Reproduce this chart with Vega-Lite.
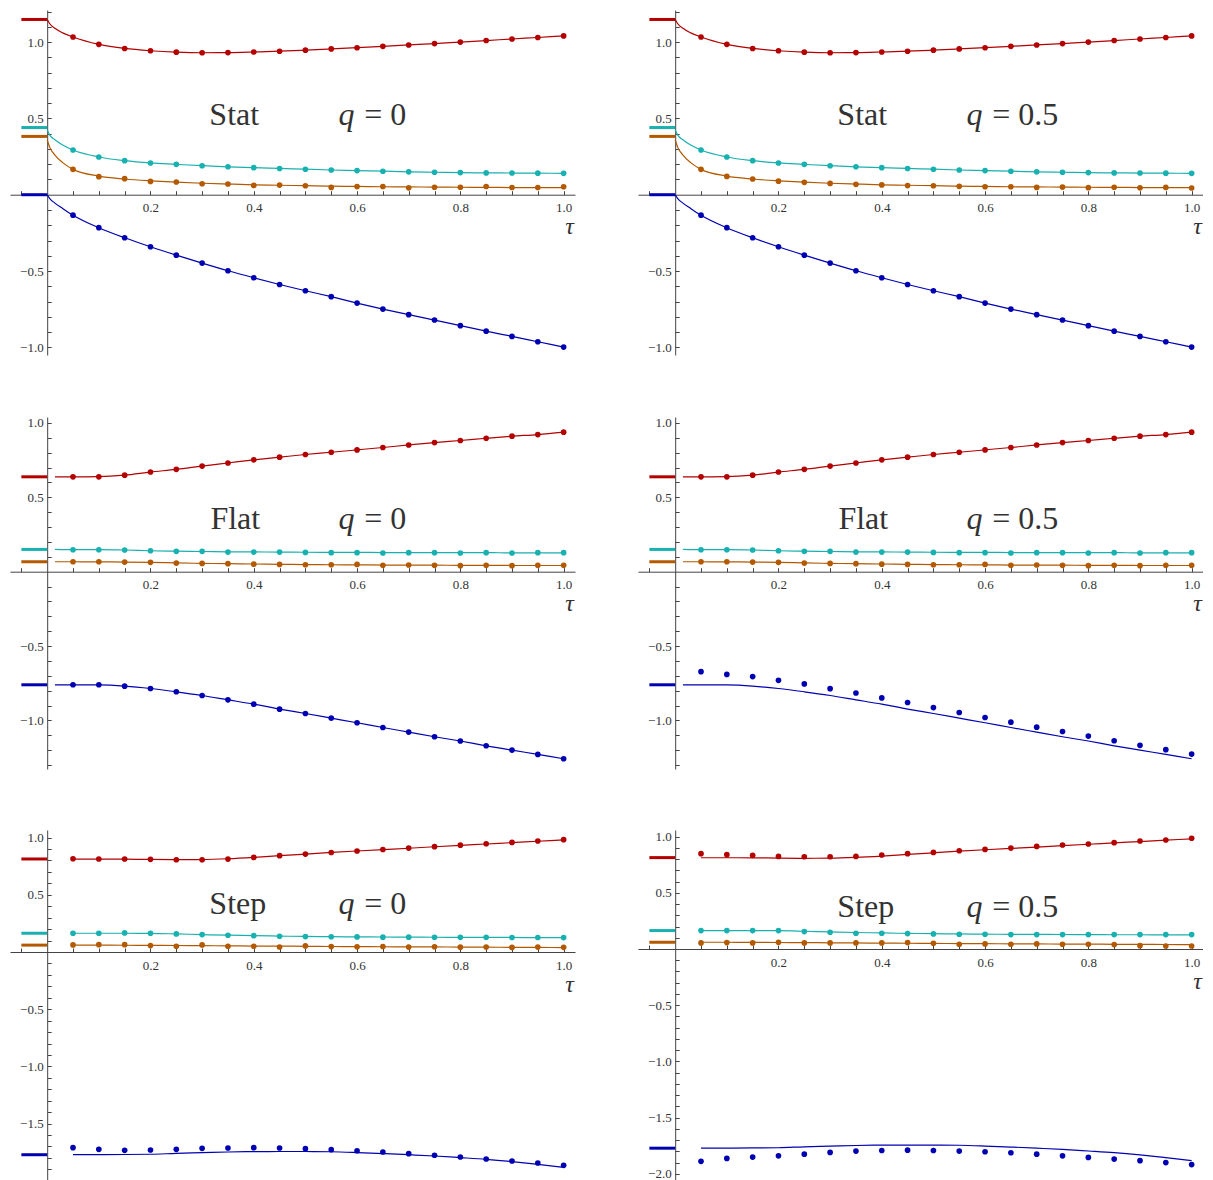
{
"$schema":"https://vega.github.io/schema/vega-lite/v6.json",
"background":"white",
"padding":{"left":10,"top":10,"right":0,"bottom":0},
"spacing":61,
"config":{"view":{"stroke":null},"font":"Liberation Serif","axis":{"domainWidth":1,"tickWidth":1,"domainColor":"#444","tickColor":"#444","labelColor":"#333","labelFont":"Liberation Serif","grid":false,"labelFlush":false,"labelOverlap":false}},
"data":{"values":[
{"p":"Sl","s":"r","t":0,"v":1.148},{"p":"Sl","s":"r","t":0.005,"v":1.12},{"p":"Sl","s":"r","t":0.015,"v":1.09},{"p":"Sl","s":"r","t":0.03,"v":1.06},{"p":"Sl","s":"r","t":0.05,"v":1.033},{"p":"Sl","s":"r","t":0.1,"v":0.985},{"p":"Sl","s":"r","t":0.15,"v":0.958},{"p":"Sl","s":"r","t":0.2,"v":0.943},{"p":"Sl","s":"r","t":0.25,"v":0.934},{"p":"Sl","s":"r","t":0.3,"v":0.93},{"p":"Sl","s":"r","t":0.35,"v":0.931},{"p":"Sl","s":"r","t":0.4,"v":0.935},{"p":"Sl","s":"r","t":0.45,"v":0.94},{"p":"Sl","s":"r","t":0.5,"v":0.947},{"p":"Sl","s":"r","t":0.55,"v":0.955},{"p":"Sl","s":"r","t":0.6,"v":0.963},{"p":"Sl","s":"r","t":0.65,"v":0.972},{"p":"Sl","s":"r","t":0.7,"v":0.981},{"p":"Sl","s":"r","t":0.75,"v":0.99},{"p":"Sl","s":"r","t":0.8,"v":1.0},{"p":"Sl","s":"r","t":0.85,"v":1.01},{"p":"Sl","s":"r","t":0.9,"v":1.02},{"p":"Sl","s":"r","t":0.95,"v":1.03},{"p":"Sl","s":"r","t":1,"v":1.04},
{"p":"Sl","s":"c","t":0,"v":0.425},{"p":"Sl","s":"c","t":0.005,"v":0.39},{"p":"Sl","s":"c","t":0.015,"v":0.36},{"p":"Sl","s":"c","t":0.03,"v":0.325},{"p":"Sl","s":"c","t":0.05,"v":0.293},{"p":"Sl","s":"c","t":0.1,"v":0.247},{"p":"Sl","s":"c","t":0.15,"v":0.223},{"p":"Sl","s":"c","t":0.2,"v":0.208},{"p":"Sl","s":"c","t":0.25,"v":0.199},{"p":"Sl","s":"c","t":0.3,"v":0.19},{"p":"Sl","s":"c","t":0.35,"v":0.183},{"p":"Sl","s":"c","t":0.4,"v":0.177},{"p":"Sl","s":"c","t":0.45,"v":0.172},{"p":"Sl","s":"c","t":0.5,"v":0.167},{"p":"Sl","s":"c","t":0.55,"v":0.162},{"p":"Sl","s":"c","t":0.6,"v":0.158},{"p":"Sl","s":"c","t":0.65,"v":0.154},{"p":"Sl","s":"c","t":0.7,"v":0.15},{"p":"Sl","s":"c","t":0.75,"v":0.147},{"p":"Sl","s":"c","t":0.8,"v":0.145},{"p":"Sl","s":"c","t":0.85,"v":0.143},{"p":"Sl","s":"c","t":0.9,"v":0.142},{"p":"Sl","s":"c","t":0.95,"v":0.141},{"p":"Sl","s":"c","t":1,"v":0.14},
{"p":"Sl","s":"o","t":0,"v":0.36},{"p":"Sl","s":"o","t":0.005,"v":0.31},{"p":"Sl","s":"o","t":0.015,"v":0.26},{"p":"Sl","s":"o","t":0.03,"v":0.21},{"p":"Sl","s":"o","t":0.05,"v":0.166},{"p":"Sl","s":"o","t":0.1,"v":0.122},{"p":"Sl","s":"o","t":0.15,"v":0.103},{"p":"Sl","s":"o","t":0.2,"v":0.091},{"p":"Sl","s":"o","t":0.25,"v":0.082},{"p":"Sl","s":"o","t":0.3,"v":0.075},{"p":"Sl","s":"o","t":0.35,"v":0.07},{"p":"Sl","s":"o","t":0.4,"v":0.065},{"p":"Sl","s":"o","t":0.45,"v":0.062},{"p":"Sl","s":"o","t":0.5,"v":0.059},{"p":"Sl","s":"o","t":0.55,"v":0.056},{"p":"Sl","s":"o","t":0.6,"v":0.054},{"p":"Sl","s":"o","t":0.65,"v":0.052},{"p":"Sl","s":"o","t":0.7,"v":0.051},{"p":"Sl","s":"o","t":0.75,"v":0.05},{"p":"Sl","s":"o","t":0.8,"v":0.049},{"p":"Sl","s":"o","t":0.85,"v":0.048},{"p":"Sl","s":"o","t":0.9,"v":0.047},{"p":"Sl","s":"o","t":0.95,"v":0.046},{"p":"Sl","s":"o","t":1,"v":0.046},
{"p":"Sl","s":"b","t":0,"v":0},{"p":"Sl","s":"b","t":0.005,"v":-0.025},{"p":"Sl","s":"b","t":0.015,"v":-0.055},{"p":"Sl","s":"b","t":0.03,"v":-0.09},{"p":"Sl","s":"b","t":0.05,"v":-0.134},{"p":"Sl","s":"b","t":0.1,"v":-0.216},{"p":"Sl","s":"b","t":0.15,"v":-0.282},{"p":"Sl","s":"b","t":0.2,"v":-0.341},{"p":"Sl","s":"b","t":0.25,"v":-0.396},{"p":"Sl","s":"b","t":0.3,"v":-0.448},{"p":"Sl","s":"b","t":0.35,"v":-0.498},{"p":"Sl","s":"b","t":0.4,"v":-0.544},{"p":"Sl","s":"b","t":0.45,"v":-0.588},{"p":"Sl","s":"b","t":0.5,"v":-0.629},{"p":"Sl","s":"b","t":0.55,"v":-0.668},{"p":"Sl","s":"b","t":0.6,"v":-0.71},{"p":"Sl","s":"b","t":0.65,"v":-0.749},{"p":"Sl","s":"b","t":0.7,"v":-0.786},{"p":"Sl","s":"b","t":0.75,"v":-0.821},{"p":"Sl","s":"b","t":0.8,"v":-0.858},{"p":"Sl","s":"b","t":0.85,"v":-0.894},{"p":"Sl","s":"b","t":0.9,"v":-0.928},{"p":"Sl","s":"b","t":0.95,"v":-0.963},{"p":"Sl","s":"b","t":1,"v":-0.998},
{"p":"Sb","s":"r","t":-0.05,"t2":0,"v":1.148},{"p":"Sb","s":"c","t":-0.05,"t2":0,"v":0.44},{"p":"Sb","s":"o","t":-0.05,"t2":0,"v":0.382},{"p":"Sb","s":"b","t":-0.05,"t2":0,"v":0},
{"p":"S","s":"r","t":0.05,"v":1.033},{"p":"S","s":"r","t":0.1,"v":0.985},{"p":"S","s":"r","t":0.15,"v":0.958},{"p":"S","s":"r","t":0.2,"v":0.943},{"p":"S","s":"r","t":0.25,"v":0.934},{"p":"S","s":"r","t":0.3,"v":0.93},{"p":"S","s":"r","t":0.35,"v":0.931},{"p":"S","s":"r","t":0.4,"v":0.935},{"p":"S","s":"r","t":0.45,"v":0.94},{"p":"S","s":"r","t":0.5,"v":0.947},{"p":"S","s":"r","t":0.55,"v":0.955},{"p":"S","s":"r","t":0.6,"v":0.963},{"p":"S","s":"r","t":0.65,"v":0.972},{"p":"S","s":"r","t":0.7,"v":0.981},{"p":"S","s":"r","t":0.75,"v":0.99},{"p":"S","s":"r","t":0.8,"v":1.0},{"p":"S","s":"r","t":0.85,"v":1.01},{"p":"S","s":"r","t":0.9,"v":1.02},{"p":"S","s":"r","t":0.95,"v":1.03},{"p":"S","s":"r","t":1,"v":1.04},
{"p":"S","s":"c","t":0.05,"v":0.293},{"p":"S","s":"c","t":0.1,"v":0.247},{"p":"S","s":"c","t":0.15,"v":0.223},{"p":"S","s":"c","t":0.2,"v":0.208},{"p":"S","s":"c","t":0.25,"v":0.199},{"p":"S","s":"c","t":0.3,"v":0.19},{"p":"S","s":"c","t":0.35,"v":0.183},{"p":"S","s":"c","t":0.4,"v":0.177},{"p":"S","s":"c","t":0.45,"v":0.172},{"p":"S","s":"c","t":0.5,"v":0.167},{"p":"S","s":"c","t":0.55,"v":0.162},{"p":"S","s":"c","t":0.6,"v":0.158},{"p":"S","s":"c","t":0.65,"v":0.154},{"p":"S","s":"c","t":0.7,"v":0.15},{"p":"S","s":"c","t":0.75,"v":0.147},{"p":"S","s":"c","t":0.8,"v":0.145},{"p":"S","s":"c","t":0.85,"v":0.143},{"p":"S","s":"c","t":0.9,"v":0.142},{"p":"S","s":"c","t":0.95,"v":0.141},{"p":"S","s":"c","t":1,"v":0.14},
{"p":"S","s":"b","t":0.05,"v":-0.134},{"p":"S","s":"b","t":0.1,"v":-0.216},{"p":"S","s":"b","t":0.15,"v":-0.282},{"p":"S","s":"b","t":0.2,"v":-0.341},{"p":"S","s":"b","t":0.25,"v":-0.396},{"p":"S","s":"b","t":0.3,"v":-0.448},{"p":"S","s":"b","t":0.35,"v":-0.498},{"p":"S","s":"b","t":0.4,"v":-0.544},{"p":"S","s":"b","t":0.45,"v":-0.588},{"p":"S","s":"b","t":0.5,"v":-0.629},{"p":"S","s":"b","t":0.55,"v":-0.668},{"p":"S","s":"b","t":0.6,"v":-0.71},{"p":"S","s":"b","t":0.65,"v":-0.749},{"p":"S","s":"b","t":0.7,"v":-0.786},{"p":"S","s":"b","t":0.75,"v":-0.821},{"p":"S","s":"b","t":0.8,"v":-0.858},{"p":"S","s":"b","t":0.85,"v":-0.894},{"p":"S","s":"b","t":0.9,"v":-0.928},{"p":"S","s":"b","t":0.95,"v":-0.963},{"p":"S","s":"b","t":1,"v":-0.998},
{"p":"S0","s":"o","t":0.05,"v":0.166},{"p":"S0","s":"o","t":0.1,"v":0.118},{"p":"S0","s":"o","t":0.15,"v":0.105},{"p":"S0","s":"o","t":0.2,"v":0.087},{"p":"S0","s":"o","t":0.25,"v":0.083},{"p":"S0","s":"o","t":0.3,"v":0.072},{"p":"S0","s":"o","t":0.35,"v":0.07},{"p":"S0","s":"o","t":0.4,"v":0.061},{"p":"S0","s":"o","t":0.45,"v":0.063},{"p":"S0","s":"o","t":0.5,"v":0.059},{"p":"S0","s":"o","t":0.55,"v":0.048},{"p":"S0","s":"o","t":0.6,"v":0.053},{"p":"S0","s":"o","t":0.65,"v":0.054},{"p":"S0","s":"o","t":0.7,"v":0.045},{"p":"S0","s":"o","t":0.75,"v":0.049},{"p":"S0","s":"o","t":0.8,"v":0.049},{"p":"S0","s":"o","t":0.85,"v":0.054},{"p":"S0","s":"o","t":0.9,"v":0.047},{"p":"S0","s":"o","t":0.95,"v":0.047},{"p":"S0","s":"o","t":1,"v":0.052},
{"p":"S5","s":"o","t":0.05,"v":0.166},{"p":"S5","s":"o","t":0.1,"v":0.12},{"p":"S5","s":"o","t":0.15,"v":0.103},{"p":"S5","s":"o","t":0.2,"v":0.089},{"p":"S5","s":"o","t":0.25,"v":0.081},{"p":"S5","s":"o","t":0.3,"v":0.074},{"p":"S5","s":"o","t":0.35,"v":0.068},{"p":"S5","s":"o","t":0.4,"v":0.064},{"p":"S5","s":"o","t":0.45,"v":0.06},{"p":"S5","s":"o","t":0.5,"v":0.059},{"p":"S5","s":"o","t":0.55,"v":0.055},{"p":"S5","s":"o","t":0.6,"v":0.052},{"p":"S5","s":"o","t":0.65,"v":0.052},{"p":"S5","s":"o","t":0.7,"v":0.048},{"p":"S5","s":"o","t":0.75,"v":0.05},{"p":"S5","s":"o","t":0.8,"v":0.046},{"p":"S5","s":"o","t":0.85,"v":0.049},{"p":"S5","s":"o","t":0.9,"v":0.045},{"p":"S5","s":"o","t":0.95,"v":0.048},{"p":"S5","s":"o","t":1,"v":0.044},
{"p":"Fl","s":"r","t":0.015,"v":0.638},{"p":"Fl","s":"r","t":0.05,"v":0.638},{"p":"Fl","s":"r","t":0.1,"v":0.639},{"p":"Fl","s":"r","t":0.15,"v":0.649},{"p":"Fl","s":"r","t":0.2,"v":0.67},{"p":"Fl","s":"r","t":0.25,"v":0.688},{"p":"Fl","s":"r","t":0.3,"v":0.71},{"p":"Fl","s":"r","t":0.35,"v":0.731},{"p":"Fl","s":"r","t":0.4,"v":0.752},{"p":"Fl","s":"r","t":0.45,"v":0.77},{"p":"Fl","s":"r","t":0.5,"v":0.788},{"p":"Fl","s":"r","t":0.55,"v":0.803},{"p":"Fl","s":"r","t":0.6,"v":0.819},{"p":"Fl","s":"r","t":0.65,"v":0.835},{"p":"Fl","s":"r","t":0.7,"v":0.852},{"p":"Fl","s":"r","t":0.75,"v":0.868},{"p":"Fl","s":"r","t":0.8,"v":0.882},{"p":"Fl","s":"r","t":0.85,"v":0.897},{"p":"Fl","s":"r","t":0.9,"v":0.911},{"p":"Fl","s":"r","t":0.95,"v":0.922},{"p":"Fl","s":"r","t":1,"v":0.938},
{"p":"Fl","s":"c","t":0.015,"v":0.15},{"p":"Fl","s":"c","t":0.05,"v":0.148},{"p":"Fl","s":"c","t":0.1,"v":0.148},{"p":"Fl","s":"c","t":0.15,"v":0.146},{"p":"Fl","s":"c","t":0.2,"v":0.141},{"p":"Fl","s":"c","t":0.25,"v":0.138},{"p":"Fl","s":"c","t":0.3,"v":0.136},{"p":"Fl","s":"c","t":0.35,"v":0.134},{"p":"Fl","s":"c","t":0.4,"v":0.133},{"p":"Fl","s":"c","t":0.45,"v":0.132},{"p":"Fl","s":"c","t":0.5,"v":0.131},{"p":"Fl","s":"c","t":0.55,"v":0.13},{"p":"Fl","s":"c","t":0.6,"v":0.13},{"p":"Fl","s":"c","t":0.65,"v":0.129},{"p":"Fl","s":"c","t":0.7,"v":0.129},{"p":"Fl","s":"c","t":0.75,"v":0.128},{"p":"Fl","s":"c","t":0.8,"v":0.128},{"p":"Fl","s":"c","t":0.85,"v":0.128},{"p":"Fl","s":"c","t":0.9,"v":0.127},{"p":"Fl","s":"c","t":0.95,"v":0.127},{"p":"Fl","s":"c","t":1,"v":0.127},
{"p":"Fl","s":"o","t":0.015,"v":0.067},{"p":"Fl","s":"o","t":0.05,"v":0.067},{"p":"Fl","s":"o","t":0.1,"v":0.066},{"p":"Fl","s":"o","t":0.15,"v":0.065},{"p":"Fl","s":"o","t":0.2,"v":0.063},{"p":"Fl","s":"o","t":0.25,"v":0.059},{"p":"Fl","s":"o","t":0.3,"v":0.056},{"p":"Fl","s":"o","t":0.35,"v":0.054},{"p":"Fl","s":"o","t":0.4,"v":0.052},{"p":"Fl","s":"o","t":0.45,"v":0.05},{"p":"Fl","s":"o","t":0.5,"v":0.048},{"p":"Fl","s":"o","t":0.55,"v":0.047},{"p":"Fl","s":"o","t":0.6,"v":0.046},{"p":"Fl","s":"o","t":0.65,"v":0.045},{"p":"Fl","s":"o","t":0.7,"v":0.044},{"p":"Fl","s":"o","t":0.75,"v":0.044},{"p":"Fl","s":"o","t":0.8,"v":0.043},{"p":"Fl","s":"o","t":0.85,"v":0.043},{"p":"Fl","s":"o","t":0.9,"v":0.042},{"p":"Fl","s":"o","t":0.95,"v":0.042},{"p":"Fl","s":"o","t":1,"v":0.042},
{"p":"Fl","s":"b","t":0.015,"v":-0.76},{"p":"Fl","s":"b","t":0.05,"v":-0.76},{"p":"Fl","s":"b","t":0.1,"v":-0.761},{"p":"Fl","s":"b","t":0.15,"v":-0.769},{"p":"Fl","s":"b","t":0.2,"v":-0.785},{"p":"Fl","s":"b","t":0.25,"v":-0.807},{"p":"Fl","s":"b","t":0.3,"v":-0.832},{"p":"Fl","s":"b","t":0.35,"v":-0.861},{"p":"Fl","s":"b","t":0.4,"v":-0.89},{"p":"Fl","s":"b","t":0.45,"v":-0.923},{"p":"Fl","s":"b","t":0.5,"v":-0.953},{"p":"Fl","s":"b","t":0.55,"v":-0.984},{"p":"Fl","s":"b","t":0.6,"v":-1.015},{"p":"Fl","s":"b","t":0.65,"v":-1.047},{"p":"Fl","s":"b","t":0.7,"v":-1.078},{"p":"Fl","s":"b","t":0.75,"v":-1.109},{"p":"Fl","s":"b","t":0.8,"v":-1.138},{"p":"Fl","s":"b","t":0.85,"v":-1.17},{"p":"Fl","s":"b","t":0.9,"v":-1.199},{"p":"Fl","s":"b","t":0.95,"v":-1.228},{"p":"Fl","s":"b","t":1,"v":-1.257},
{"p":"Fb","s":"r","t":-0.05,"t2":0,"v":0.638},{"p":"Fb","s":"c","t":-0.05,"t2":0,"v":0.15},{"p":"Fb","s":"o","t":-0.05,"t2":0,"v":0.067},{"p":"Fb","s":"b","t":-0.05,"t2":0,"v":-0.76},
{"p":"F","s":"r","t":0.05,"v":0.638},{"p":"F","s":"r","t":0.1,"v":0.638},{"p":"F","s":"r","t":0.15,"v":0.649},{"p":"F","s":"r","t":0.2,"v":0.67},{"p":"F","s":"r","t":0.25,"v":0.688},{"p":"F","s":"r","t":0.3,"v":0.71},{"p":"F","s":"r","t":0.35,"v":0.731},{"p":"F","s":"r","t":0.4,"v":0.752},{"p":"F","s":"r","t":0.45,"v":0.77},{"p":"F","s":"r","t":0.5,"v":0.788},{"p":"F","s":"r","t":0.55,"v":0.803},{"p":"F","s":"r","t":0.6,"v":0.819},{"p":"F","s":"r","t":0.65,"v":0.835},{"p":"F","s":"r","t":0.7,"v":0.852},{"p":"F","s":"r","t":0.75,"v":0.868},{"p":"F","s":"r","t":0.8,"v":0.882},{"p":"F","s":"r","t":0.85,"v":0.897},{"p":"F","s":"r","t":0.9,"v":0.911},{"p":"F","s":"r","t":0.95,"v":0.922},{"p":"F","s":"r","t":1,"v":0.938},
{"p":"F","s":"c","t":0.05,"v":0.148},{"p":"F","s":"c","t":0.1,"v":0.148},{"p":"F","s":"c","t":0.15,"v":0.146},{"p":"F","s":"c","t":0.2,"v":0.141},{"p":"F","s":"c","t":0.25,"v":0.137},{"p":"F","s":"c","t":0.3,"v":0.137},{"p":"F","s":"c","t":0.35,"v":0.132},{"p":"F","s":"c","t":0.4,"v":0.132},{"p":"F","s":"c","t":0.45,"v":0.132},{"p":"F","s":"c","t":0.5,"v":0.13},{"p":"F","s":"c","t":0.55,"v":0.128},{"p":"F","s":"c","t":0.6,"v":0.128},{"p":"F","s":"c","t":0.65,"v":0.126},{"p":"F","s":"c","t":0.7,"v":0.128},{"p":"F","s":"c","t":0.75,"v":0.128},{"p":"F","s":"c","t":0.8,"v":0.126},{"p":"F","s":"c","t":0.85,"v":0.128},{"p":"F","s":"c","t":0.9,"v":0.126},{"p":"F","s":"c","t":0.95,"v":0.128},{"p":"F","s":"c","t":1,"v":0.128},
{"p":"F","s":"o","t":0.05,"v":0.067},{"p":"F","s":"o","t":0.1,"v":0.067},{"p":"F","s":"o","t":0.15,"v":0.065},{"p":"F","s":"o","t":0.2,"v":0.063},{"p":"F","s":"o","t":0.25,"v":0.058},{"p":"F","s":"o","t":0.3,"v":0.056},{"p":"F","s":"o","t":0.35,"v":0.054},{"p":"F","s":"o","t":0.4,"v":0.051},{"p":"F","s":"o","t":0.45,"v":0.049},{"p":"F","s":"o","t":0.5,"v":0.047},{"p":"F","s":"o","t":0.55,"v":0.047},{"p":"F","s":"o","t":0.6,"v":0.049},{"p":"F","s":"o","t":0.65,"v":0.043},{"p":"F","s":"o","t":0.7,"v":0.045},{"p":"F","s":"o","t":0.75,"v":0.043},{"p":"F","s":"o","t":0.8,"v":0.041},{"p":"F","s":"o","t":0.85,"v":0.043},{"p":"F","s":"o","t":0.9,"v":0.041},{"p":"F","s":"o","t":0.95,"v":0.043},{"p":"F","s":"o","t":1,"v":0.043},
{"p":"F0","s":"b","t":0.05,"v":-0.76},{"p":"F0","s":"b","t":0.1,"v":-0.76},{"p":"F0","s":"b","t":0.15,"v":-0.769},{"p":"F0","s":"b","t":0.2,"v":-0.785},{"p":"F0","s":"b","t":0.25,"v":-0.807},{"p":"F0","s":"b","t":0.3,"v":-0.832},{"p":"F0","s":"b","t":0.35,"v":-0.861},{"p":"F0","s":"b","t":0.4,"v":-0.89},{"p":"F0","s":"b","t":0.45,"v":-0.924},{"p":"F0","s":"b","t":0.5,"v":-0.953},{"p":"F0","s":"b","t":0.55,"v":-0.984},{"p":"F0","s":"b","t":0.6,"v":-1.015},{"p":"F0","s":"b","t":0.65,"v":-1.047},{"p":"F0","s":"b","t":0.7,"v":-1.078},{"p":"F0","s":"b","t":0.75,"v":-1.109},{"p":"F0","s":"b","t":0.8,"v":-1.138},{"p":"F0","s":"b","t":0.85,"v":-1.17},{"p":"F0","s":"b","t":0.9,"v":-1.199},{"p":"F0","s":"b","t":0.95,"v":-1.228},{"p":"F0","s":"b","t":1,"v":-1.257},
{"p":"F5","s":"b","t":0.05,"v":-0.672},{"p":"F5","s":"b","t":0.1,"v":-0.69},{"p":"F5","s":"b","t":0.15,"v":-0.705},{"p":"F5","s":"b","t":0.2,"v":-0.73},{"p":"F5","s":"b","t":0.25,"v":-0.754},{"p":"F5","s":"b","t":0.3,"v":-0.786},{"p":"F5","s":"b","t":0.35,"v":-0.815},{"p":"F5","s":"b","t":0.4,"v":-0.848},{"p":"F5","s":"b","t":0.45,"v":-0.879},{"p":"F5","s":"b","t":0.5,"v":-0.913},{"p":"F5","s":"b","t":0.55,"v":-0.946},{"p":"F5","s":"b","t":0.6,"v":-0.98},{"p":"F5","s":"b","t":0.65,"v":-1.011},{"p":"F5","s":"b","t":0.7,"v":-1.045},{"p":"F5","s":"b","t":0.75,"v":-1.074},{"p":"F5","s":"b","t":0.8,"v":-1.105},{"p":"F5","s":"b","t":0.85,"v":-1.136},{"p":"F5","s":"b","t":0.9,"v":-1.167},{"p":"F5","s":"b","t":0.95,"v":-1.196},{"p":"F5","s":"b","t":1,"v":-1.226},
{"p":"Tl","s":"r","t":0.05,"v":0.812},{"p":"Tl","s":"r","t":0.1,"v":0.812},{"p":"Tl","s":"r","t":0.15,"v":0.811},{"p":"Tl","s":"r","t":0.2,"v":0.809},{"p":"Tl","s":"r","t":0.25,"v":0.807},{"p":"Tl","s":"r","t":0.3,"v":0.808},{"p":"Tl","s":"r","t":0.35,"v":0.815},{"p":"Tl","s":"r","t":0.4,"v":0.827},{"p":"Tl","s":"r","t":0.45,"v":0.842},{"p":"Tl","s":"r","t":0.5,"v":0.856},{"p":"Tl","s":"r","t":0.55,"v":0.87},{"p":"Tl","s":"r","t":0.6,"v":0.883},{"p":"Tl","s":"r","t":0.65,"v":0.895},{"p":"Tl","s":"r","t":0.7,"v":0.907},{"p":"Tl","s":"r","t":0.75,"v":0.92},{"p":"Tl","s":"r","t":0.8,"v":0.932},{"p":"Tl","s":"r","t":0.85,"v":0.944},{"p":"Tl","s":"r","t":0.9,"v":0.956},{"p":"Tl","s":"r","t":0.95,"v":0.968},{"p":"Tl","s":"r","t":1,"v":0.98},
{"p":"Tl","s":"c","t":0.05,"v":0.164},{"p":"Tl","s":"c","t":0.1,"v":0.164},{"p":"Tl","s":"c","t":0.15,"v":0.164},{"p":"Tl","s":"c","t":0.2,"v":0.163},{"p":"Tl","s":"c","t":0.25,"v":0.158},{"p":"Tl","s":"c","t":0.3,"v":0.152},{"p":"Tl","s":"c","t":0.35,"v":0.147},{"p":"Tl","s":"c","t":0.4,"v":0.143},{"p":"Tl","s":"c","t":0.45,"v":0.139},{"p":"Tl","s":"c","t":0.5,"v":0.136},{"p":"Tl","s":"c","t":0.55,"v":0.134},{"p":"Tl","s":"c","t":0.6,"v":0.132},{"p":"Tl","s":"c","t":0.65,"v":0.131},{"p":"Tl","s":"c","t":0.7,"v":0.13},{"p":"Tl","s":"c","t":0.75,"v":0.129},{"p":"Tl","s":"c","t":0.8,"v":0.128},{"p":"Tl","s":"c","t":0.85,"v":0.127},{"p":"Tl","s":"c","t":0.9,"v":0.127},{"p":"Tl","s":"c","t":0.95,"v":0.126},{"p":"Tl","s":"c","t":1,"v":0.126},
{"p":"Tl","s":"o","t":0.05,"v":0.06},{"p":"Tl","s":"o","t":0.1,"v":0.06},{"p":"Tl","s":"o","t":0.15,"v":0.059},{"p":"Tl","s":"o","t":0.2,"v":0.058},{"p":"Tl","s":"o","t":0.25,"v":0.057},{"p":"Tl","s":"o","t":0.3,"v":0.055},{"p":"Tl","s":"o","t":0.35,"v":0.054},{"p":"Tl","s":"o","t":0.4,"v":0.052},{"p":"Tl","s":"o","t":0.45,"v":0.051},{"p":"Tl","s":"o","t":0.5,"v":0.05},{"p":"Tl","s":"o","t":0.55,"v":0.048},{"p":"Tl","s":"o","t":0.6,"v":0.047},{"p":"Tl","s":"o","t":0.65,"v":0.046},{"p":"Tl","s":"o","t":0.7,"v":0.045},{"p":"Tl","s":"o","t":0.75,"v":0.044},{"p":"Tl","s":"o","t":0.8,"v":0.043},{"p":"Tl","s":"o","t":0.85,"v":0.042},{"p":"Tl","s":"o","t":0.9,"v":0.041},{"p":"Tl","s":"o","t":0.95,"v":0.04},{"p":"Tl","s":"o","t":1,"v":0.039},
{"p":"Tl","s":"b","t":0.05,"v":-1.772},{"p":"Tl","s":"b","t":0.1,"v":-1.772},{"p":"Tl","s":"b","t":0.15,"v":-1.77},{"p":"Tl","s":"b","t":0.2,"v":-1.768},{"p":"Tl","s":"b","t":0.25,"v":-1.76},{"p":"Tl","s":"b","t":0.3,"v":-1.754},{"p":"Tl","s":"b","t":0.35,"v":-1.748},{"p":"Tl","s":"b","t":0.4,"v":-1.745},{"p":"Tl","s":"b","t":0.45,"v":-1.744},{"p":"Tl","s":"b","t":0.5,"v":-1.744},{"p":"Tl","s":"b","t":0.55,"v":-1.746},{"p":"Tl","s":"b","t":0.6,"v":-1.753},{"p":"Tl","s":"b","t":0.65,"v":-1.762},{"p":"Tl","s":"b","t":0.7,"v":-1.772},{"p":"Tl","s":"b","t":0.75,"v":-1.783},{"p":"Tl","s":"b","t":0.8,"v":-1.797},{"p":"Tl","s":"b","t":0.85,"v":-1.812},{"p":"Tl","s":"b","t":0.9,"v":-1.832},{"p":"Tl","s":"b","t":0.95,"v":-1.856},{"p":"Tl","s":"b","t":1,"v":-1.882},
{"p":"Tb","s":"r","t":-0.05,"t2":0,"v":0.813},{"p":"Tb","s":"c","t":-0.05,"t2":0,"v":0.164},{"p":"Tb","s":"o","t":-0.05,"t2":0,"v":0.06},{"p":"Tb","s":"b","t":-0.05,"t2":0,"v":-1.772},
{"p":"T0","s":"r","t":0.05,"v":0.815},{"p":"T0","s":"r","t":0.1,"v":0.813},{"p":"T0","s":"r","t":0.15,"v":0.813},{"p":"T0","s":"r","t":0.2,"v":0.81},{"p":"T0","s":"r","t":0.25,"v":0.806},{"p":"T0","s":"r","t":0.3,"v":0.806},{"p":"T0","s":"r","t":0.35,"v":0.812},{"p":"T0","s":"r","t":0.4,"v":0.827},{"p":"T0","s":"r","t":0.45,"v":0.842},{"p":"T0","s":"r","t":0.5,"v":0.856},{"p":"T0","s":"r","t":0.55,"v":0.87},{"p":"T0","s":"r","t":0.6,"v":0.883},{"p":"T0","s":"r","t":0.65,"v":0.896},{"p":"T0","s":"r","t":0.7,"v":0.908},{"p":"T0","s":"r","t":0.75,"v":0.921},{"p":"T0","s":"r","t":0.8,"v":0.934},{"p":"T0","s":"r","t":0.85,"v":0.946},{"p":"T0","s":"r","t":0.9,"v":0.958},{"p":"T0","s":"r","t":0.95,"v":0.97},{"p":"T0","s":"r","t":1,"v":0.982},
{"p":"T0","s":"c","t":0.05,"v":0.164},{"p":"T0","s":"c","t":0.1,"v":0.164},{"p":"T0","s":"c","t":0.15,"v":0.167},{"p":"T0","s":"c","t":0.2,"v":0.164},{"p":"T0","s":"c","t":0.25,"v":0.158},{"p":"T0","s":"c","t":0.3,"v":0.152},{"p":"T0","s":"c","t":0.35,"v":0.146},{"p":"T0","s":"c","t":0.4,"v":0.143},{"p":"T0","s":"c","t":0.45,"v":0.138},{"p":"T0","s":"c","t":0.5,"v":0.135},{"p":"T0","s":"c","t":0.55,"v":0.133},{"p":"T0","s":"c","t":0.6,"v":0.132},{"p":"T0","s":"c","t":0.65,"v":0.13},{"p":"T0","s":"c","t":0.7,"v":0.13},{"p":"T0","s":"c","t":0.75,"v":0.129},{"p":"T0","s":"c","t":0.8,"v":0.128},{"p":"T0","s":"c","t":0.85,"v":0.128},{"p":"T0","s":"c","t":0.9,"v":0.127},{"p":"T0","s":"c","t":0.95,"v":0.127},{"p":"T0","s":"c","t":1,"v":0.126},
{"p":"T0","s":"o","t":0.05,"v":0.062},{"p":"T0","s":"o","t":0.1,"v":0.064},{"p":"T0","s":"o","t":0.15,"v":0.064},{"p":"T0","s":"o","t":0.2,"v":0.056},{"p":"T0","s":"o","t":0.25,"v":0.05},{"p":"T0","s":"o","t":0.3,"v":0.062},{"p":"T0","s":"o","t":0.35,"v":0.05},{"p":"T0","s":"o","t":0.4,"v":0.05},{"p":"T0","s":"o","t":0.45,"v":0.044},{"p":"T0","s":"o","t":0.5,"v":0.053},{"p":"T0","s":"o","t":0.55,"v":0.047},{"p":"T0","s":"o","t":0.6,"v":0.045},{"p":"T0","s":"o","t":0.65,"v":0.048},{"p":"T0","s":"o","t":0.7,"v":0.043},{"p":"T0","s":"o","t":0.75,"v":0.046},{"p":"T0","s":"o","t":0.8,"v":0.042},{"p":"T0","s":"o","t":0.85,"v":0.044},{"p":"T0","s":"o","t":0.9,"v":0.04},{"p":"T0","s":"o","t":0.95,"v":0.043},{"p":"T0","s":"o","t":1,"v":0.041},
{"p":"T0","s":"b","t":0.05,"v":-1.71},{"p":"T0","s":"b","t":0.1,"v":-1.725},{"p":"T0","s":"b","t":0.15,"v":-1.734},{"p":"T0","s":"b","t":0.2,"v":-1.731},{"p":"T0","s":"b","t":0.25,"v":-1.725},{"p":"T0","s":"b","t":0.3,"v":-1.716},{"p":"T0","s":"b","t":0.35,"v":-1.713},{"p":"T0","s":"b","t":0.4,"v":-1.71},{"p":"T0","s":"b","t":0.45,"v":-1.713},{"p":"T0","s":"b","t":0.5,"v":-1.719},{"p":"T0","s":"b","t":0.55,"v":-1.728},{"p":"T0","s":"b","t":0.6,"v":-1.737},{"p":"T0","s":"b","t":0.65,"v":-1.748},{"p":"T0","s":"b","t":0.7,"v":-1.763},{"p":"T0","s":"b","t":0.75,"v":-1.777},{"p":"T0","s":"b","t":0.8,"v":-1.792},{"p":"T0","s":"b","t":0.85,"v":-1.809},{"p":"T0","s":"b","t":0.9,"v":-1.827},{"p":"T0","s":"b","t":0.95,"v":-1.844},{"p":"T0","s":"b","t":1,"v":-1.865},
{"p":"T5","s":"r","t":0.05,"v":0.848},{"p":"T5","s":"r","t":0.1,"v":0.839},{"p":"T5","s":"r","t":0.15,"v":0.833},{"p":"T5","s":"r","t":0.2,"v":0.824},{"p":"T5","s":"r","t":0.25,"v":0.821},{"p":"T5","s":"r","t":0.3,"v":0.821},{"p":"T5","s":"r","t":0.35,"v":0.824},{"p":"T5","s":"r","t":0.4,"v":0.836},{"p":"T5","s":"r","t":0.45,"v":0.848},{"p":"T5","s":"r","t":0.5,"v":0.859},{"p":"T5","s":"r","t":0.55,"v":0.874},{"p":"T5","s":"r","t":0.6,"v":0.886},{"p":"T5","s":"r","t":0.65,"v":0.898},{"p":"T5","s":"r","t":0.7,"v":0.913},{"p":"T5","s":"r","t":0.75,"v":0.925},{"p":"T5","s":"r","t":0.8,"v":0.934},{"p":"T5","s":"r","t":0.85,"v":0.946},{"p":"T5","s":"r","t":0.9,"v":0.961},{"p":"T5","s":"r","t":0.95,"v":0.97},{"p":"T5","s":"r","t":1,"v":0.985},
{"p":"T5","s":"c","t":0.05,"v":0.164},{"p":"T5","s":"c","t":0.1,"v":0.164},{"p":"T5","s":"c","t":0.15,"v":0.164},{"p":"T5","s":"c","t":0.2,"v":0.164},{"p":"T5","s":"c","t":0.25,"v":0.155},{"p":"T5","s":"c","t":0.3,"v":0.149},{"p":"T5","s":"c","t":0.35,"v":0.14},{"p":"T5","s":"c","t":0.4,"v":0.14},{"p":"T5","s":"c","t":0.45,"v":0.137},{"p":"T5","s":"c","t":0.5,"v":0.134},{"p":"T5","s":"c","t":0.55,"v":0.131},{"p":"T5","s":"c","t":0.6,"v":0.131},{"p":"T5","s":"c","t":0.65,"v":0.128},{"p":"T5","s":"c","t":0.7,"v":0.128},{"p":"T5","s":"c","t":0.75,"v":0.128},{"p":"T5","s":"c","t":0.8,"v":0.128},{"p":"T5","s":"c","t":0.85,"v":0.128},{"p":"T5","s":"c","t":0.9,"v":0.128},{"p":"T5","s":"c","t":0.95,"v":0.128},{"p":"T5","s":"c","t":1,"v":0.128},
{"p":"T5","s":"o","t":0.05,"v":0.054},{"p":"T5","s":"o","t":0.1,"v":0.057},{"p":"T5","s":"o","t":0.15,"v":0.054},{"p":"T5","s":"o","t":0.2,"v":0.06},{"p":"T5","s":"o","t":0.25,"v":0.054},{"p":"T5","s":"o","t":0.3,"v":0.054},{"p":"T5","s":"o","t":0.35,"v":0.054},{"p":"T5","s":"o","t":0.4,"v":0.054},{"p":"T5","s":"o","t":0.45,"v":0.057},{"p":"T5","s":"o","t":0.5,"v":0.051},{"p":"T5","s":"o","t":0.55,"v":0.042},{"p":"T5","s":"o","t":0.6,"v":0.045},{"p":"T5","s":"o","t":0.65,"v":0.042},{"p":"T5","s":"o","t":0.7,"v":0.045},{"p":"T5","s":"o","t":0.75,"v":0.042},{"p":"T5","s":"o","t":0.8,"v":0.042},{"p":"T5","s":"o","t":0.85,"v":0.039},{"p":"T5","s":"o","t":0.9,"v":0.03},{"p":"T5","s":"o","t":0.95,"v":0.027},{"p":"T5","s":"o","t":1,"v":0.027},
{"p":"T5","s":"b","t":0.05,"v":-1.889},{"p":"T5","s":"b","t":0.1,"v":-1.863},{"p":"T5","s":"b","t":0.15,"v":-1.851},{"p":"T5","s":"b","t":0.2,"v":-1.84},{"p":"T5","s":"b","t":0.25,"v":-1.825},{"p":"T5","s":"b","t":0.3,"v":-1.81},{"p":"T5","s":"b","t":0.35,"v":-1.798},{"p":"T5","s":"b","t":0.4,"v":-1.793},{"p":"T5","s":"b","t":0.45,"v":-1.79},{"p":"T5","s":"b","t":0.5,"v":-1.793},{"p":"T5","s":"b","t":0.55,"v":-1.798},{"p":"T5","s":"b","t":0.6,"v":-1.804},{"p":"T5","s":"b","t":0.65,"v":-1.813},{"p":"T5","s":"b","t":0.7,"v":-1.825},{"p":"T5","s":"b","t":0.75,"v":-1.84},{"p":"T5","s":"b","t":0.8,"v":-1.854},{"p":"T5","s":"b","t":0.85,"v":-1.869},{"p":"T5","s":"b","t":0.9,"v":-1.883},{"p":"T5","s":"b","t":0.95,"v":-1.9},{"p":"T5","s":"b","t":1,"v":-1.918},
{"p":"S0x","t":0.314,"v":0.459,"label":"Stat"},{"p":"S0i","t":0.564,"v":0.459,"label":"q"},{"p":"S0x","t":0.614,"v":0.459,"label":"= 0"},
{"p":"S5x","t":0.314,"v":0.459,"label":"Stat"},{"p":"S5i","t":0.564,"v":0.459,"label":"q"},{"p":"S5x","t":0.614,"v":0.459,"label":"= 0.5"},
{"p":"F0x","t":0.316,"v":0.285,"label":"Flat"},{"p":"F0i","t":0.564,"v":0.285,"label":"q"},{"p":"F0x","t":0.614,"v":0.285,"label":"= 0"},
{"p":"F5x","t":0.316,"v":0.285,"label":"Flat"},{"p":"F5i","t":0.564,"v":0.285,"label":"q"},{"p":"F5x","t":0.614,"v":0.285,"label":"= 0.5"},
{"p":"T0x","t":0.314,"v":0.33,"label":"Step"},{"p":"T0i","t":0.564,"v":0.33,"label":"q"},{"p":"T0x","t":0.614,"v":0.33,"label":"= 0"},
{"p":"T5x","t":0.314,"v":0.285,"label":"Step"},{"p":"T5i","t":0.564,"v":0.285,"label":"q"},{"p":"T5x","t":0.614,"v":0.285,"label":"= 0.5"}
]},
"vconcat":[
{"spacing":63,"hconcat":[
{"width":565,"height":345,
"encoding":{
"x":{"field":"t","type":"quantitative","scale":{"domain":[-0.072,1.022],"nice":false,"zero":false},"axis":{"orient":"bottom","offset":-160.3,"values":[-0.05,0.05,0.1,0.15,0.2,0.25,0.3,0.35,0.4,0.45,0.5,0.55,0.6,0.65,0.7,0.75,0.8,0.85,0.9,0.95,1],"format":".1f","labelExpr":"abs(datum.value*5-round(datum.value*5))<0.001 && datum.value>0 ? datum.label : ''","labelFontSize":{"condition":{"test":"abs(datum.value*5-round(datum.value*5))>0.001 || datum.value<0","value":1},"value":13},"tickSize":-4,"labelPadding":11,"title":"τ","titleFont":"Liberation Serif","titleFontSize":24,"titleFontStyle":"italic","titleFontWeight":"normal","titleColor":"#333","titleX":559,"titleY":32,"titleAlign":"center","titleBaseline":"middle"}},
"y":{"field":"v","type":"quantitative","scale":{"domain":[-1.05,1.21],"nice":false,"zero":false},"axis":{"orient":"left","offset":-37.18,"values":[-1,-0.9,-0.8,-0.7,-0.6,-0.5,-0.4,-0.3,-0.2,-0.1,0.1,0.2,0.3,0.4,0.5,0.6,0.7,0.8,0.9,1,1.1,1.2],"format":".1f","labelExpr":"abs(datum.value*2-round(datum.value*2))<0.001 ? datum.label : ''","labelFontSize":{"condition":{"test":"abs(datum.value*2-round(datum.value*2))>0.001","value":1},"value":13},"tickSize":-4,"labelPadding":8,"title":null}},
"color":{"field":"s","type":"nominal","scale":{"domain":["r","c","o","b"],"range":["#B30000","#19B0B0","#B35900","#0000B3"]},"legend":null}},
"layer":[
{"transform":[{"filter":"datum.p==='Sl'"}],"mark":{"type":"line","strokeWidth":1.2,"interpolate":"monotone"}},
{"transform":[{"filter":"datum.p==='Sb'"}],"mark":{"type":"rule","strokeWidth":3},"encoding":{"x2":{"field":"t2"}}},
{"transform":[{"filter":"datum.p==='S'||datum.p==='S0'"}],"mark":{"type":"circle","size":32,"opacity":1}},
{"transform":[{"filter":"datum.p==='S0x'"}],"mark":{"type":"text","font":"Liberation Serif","fontSize":32,"align":"left","baseline":"alphabetic"},"encoding":{"text":{"field":"label"},"color":{"value":"#333333"}}},
{"transform":[{"filter":"datum.p==='S0i'"}],"mark":{"type":"text","font":"Liberation Serif","fontSize":32,"fontStyle":"italic","align":"left","baseline":"alphabetic"},"encoding":{"text":{"field":"label"},"color":{"value":"#333333"}}}
]},
{"width":565,"height":345,
"encoding":{
"x":{"field":"t","type":"quantitative","scale":{"domain":[-0.072,1.022],"nice":false,"zero":false},"axis":{"orient":"bottom","offset":-160.3,"values":[-0.05,0.05,0.1,0.15,0.2,0.25,0.3,0.35,0.4,0.45,0.5,0.55,0.6,0.65,0.7,0.75,0.8,0.85,0.9,0.95,1],"format":".1f","labelExpr":"abs(datum.value*5-round(datum.value*5))<0.001 && datum.value>0 ? datum.label : ''","labelFontSize":{"condition":{"test":"abs(datum.value*5-round(datum.value*5))>0.001 || datum.value<0","value":1},"value":13},"tickSize":-4,"labelPadding":11,"title":"τ","titleFont":"Liberation Serif","titleFontSize":24,"titleFontStyle":"italic","titleFontWeight":"normal","titleColor":"#333","titleX":559,"titleY":32,"titleAlign":"center","titleBaseline":"middle"}},
"y":{"field":"v","type":"quantitative","scale":{"domain":[-1.05,1.21],"nice":false,"zero":false},"axis":{"orient":"left","offset":-37.18,"values":[-1,-0.9,-0.8,-0.7,-0.6,-0.5,-0.4,-0.3,-0.2,-0.1,0.1,0.2,0.3,0.4,0.5,0.6,0.7,0.8,0.9,1,1.1,1.2],"format":".1f","labelExpr":"abs(datum.value*2-round(datum.value*2))<0.001 ? datum.label : ''","labelFontSize":{"condition":{"test":"abs(datum.value*2-round(datum.value*2))>0.001","value":1},"value":13},"tickSize":-4,"labelPadding":8,"title":null}},
"color":{"field":"s","type":"nominal","scale":{"domain":["r","c","o","b"],"range":["#B30000","#19B0B0","#B35900","#0000B3"]},"legend":null}},
"layer":[
{"transform":[{"filter":"datum.p==='Sl'"}],"mark":{"type":"line","strokeWidth":1.2,"interpolate":"monotone"}},
{"transform":[{"filter":"datum.p==='Sb'"}],"mark":{"type":"rule","strokeWidth":3},"encoding":{"x2":{"field":"t2"}}},
{"transform":[{"filter":"datum.p==='S'||datum.p==='S5'"}],"mark":{"type":"circle","size":32,"opacity":1}},
{"transform":[{"filter":"datum.p==='S5x'"}],"mark":{"type":"text","font":"Liberation Serif","fontSize":32,"align":"left","baseline":"alphabetic"},"encoding":{"text":{"field":"label"},"color":{"value":"#333333"}}},
{"transform":[{"filter":"datum.p==='S5i'"}],"mark":{"type":"text","font":"Liberation Serif","fontSize":32,"fontStyle":"italic","align":"left","baseline":"alphabetic"},"encoding":{"text":{"field":"label"},"color":{"value":"#333333"}}}
]}
]},
{"spacing":63,"hconcat":[
{"width":565,"height":352,
"encoding":{
"x":{"field":"t","type":"quantitative","scale":{"domain":[-0.072,1.022],"nice":false,"zero":false},"axis":{"orient":"bottom","offset":-197.3,"values":[-0.05,0.05,0.1,0.15,0.2,0.25,0.3,0.35,0.4,0.45,0.5,0.55,0.6,0.65,0.7,0.75,0.8,0.85,0.9,0.95,1],"format":".1f","labelExpr":"abs(datum.value*5-round(datum.value*5))<0.001 && datum.value>0 ? datum.label : ''","labelFontSize":{"condition":{"test":"abs(datum.value*5-round(datum.value*5))>0.001 || datum.value<0","value":1},"value":13},"tickSize":-4,"labelPadding":11,"title":"τ","titleFont":"Liberation Serif","titleFontSize":24,"titleFontStyle":"italic","titleFontWeight":"normal","titleColor":"#333","titleX":559,"titleY":32,"titleAlign":"center","titleBaseline":"middle"}},
"y":{"field":"v","type":"quantitative","scale":{"domain":[-1.326,1.04],"nice":false,"zero":false},"axis":{"orient":"left","offset":-37.18,"values":[-1.3,-1.2,-1.1,-1,-0.9,-0.8,-0.7,-0.6,-0.5,-0.4,-0.3,-0.2,-0.1,0.1,0.2,0.3,0.4,0.5,0.6,0.7,0.8,0.9,1],"format":".1f","labelExpr":"abs(datum.value*2-round(datum.value*2))<0.001 ? datum.label : ''","labelFontSize":{"condition":{"test":"abs(datum.value*2-round(datum.value*2))>0.001","value":1},"value":13},"tickSize":-4,"labelPadding":8,"title":null}},
"color":{"field":"s","type":"nominal","scale":{"domain":["r","c","o","b"],"range":["#B30000","#19B0B0","#B35900","#0000B3"]},"legend":null}},
"layer":[
{"transform":[{"filter":"datum.p==='Fl'"}],"mark":{"type":"line","strokeWidth":1.2,"interpolate":"monotone"}},
{"transform":[{"filter":"datum.p==='Fb'"}],"mark":{"type":"rule","strokeWidth":3},"encoding":{"x2":{"field":"t2"}}},
{"transform":[{"filter":"datum.p==='F'||datum.p==='F0'"}],"mark":{"type":"circle","size":32,"opacity":1}},
{"transform":[{"filter":"datum.p==='F0x'"}],"mark":{"type":"text","font":"Liberation Serif","fontSize":32,"align":"left","baseline":"alphabetic"},"encoding":{"text":{"field":"label"},"color":{"value":"#333333"}}},
{"transform":[{"filter":"datum.p==='F0i'"}],"mark":{"type":"text","font":"Liberation Serif","fontSize":32,"fontStyle":"italic","align":"left","baseline":"alphabetic"},"encoding":{"text":{"field":"label"},"color":{"value":"#333333"}}}
]},
{"width":565,"height":352,
"encoding":{
"x":{"field":"t","type":"quantitative","scale":{"domain":[-0.072,1.022],"nice":false,"zero":false},"axis":{"orient":"bottom","offset":-197.3,"values":[-0.05,0.05,0.1,0.15,0.2,0.25,0.3,0.35,0.4,0.45,0.5,0.55,0.6,0.65,0.7,0.75,0.8,0.85,0.9,0.95,1],"format":".1f","labelExpr":"abs(datum.value*5-round(datum.value*5))<0.001 && datum.value>0 ? datum.label : ''","labelFontSize":{"condition":{"test":"abs(datum.value*5-round(datum.value*5))>0.001 || datum.value<0","value":1},"value":13},"tickSize":-4,"labelPadding":11,"title":"τ","titleFont":"Liberation Serif","titleFontSize":24,"titleFontStyle":"italic","titleFontWeight":"normal","titleColor":"#333","titleX":559,"titleY":32,"titleAlign":"center","titleBaseline":"middle"}},
"y":{"field":"v","type":"quantitative","scale":{"domain":[-1.326,1.04],"nice":false,"zero":false},"axis":{"orient":"left","offset":-37.18,"values":[-1.3,-1.2,-1.1,-1,-0.9,-0.8,-0.7,-0.6,-0.5,-0.4,-0.3,-0.2,-0.1,0.1,0.2,0.3,0.4,0.5,0.6,0.7,0.8,0.9,1],"format":".1f","labelExpr":"abs(datum.value*2-round(datum.value*2))<0.001 ? datum.label : ''","labelFontSize":{"condition":{"test":"abs(datum.value*2-round(datum.value*2))>0.001","value":1},"value":13},"tickSize":-4,"labelPadding":8,"title":null}},
"color":{"field":"s","type":"nominal","scale":{"domain":["r","c","o","b"],"range":["#B30000","#19B0B0","#B35900","#0000B3"]},"legend":null}},
"layer":[
{"transform":[{"filter":"datum.p==='Fl'"}],"mark":{"type":"line","strokeWidth":1.2,"interpolate":"monotone"}},
{"transform":[{"filter":"datum.p==='Fb'"}],"mark":{"type":"rule","strokeWidth":3},"encoding":{"x2":{"field":"t2"}}},
{"transform":[{"filter":"datum.p==='F'||datum.p==='F5'"}],"mark":{"type":"circle","size":32,"opacity":1}},
{"transform":[{"filter":"datum.p==='F5x'"}],"mark":{"type":"text","font":"Liberation Serif","fontSize":32,"align":"left","baseline":"alphabetic"},"encoding":{"text":{"field":"label"},"color":{"value":"#333333"}}},
{"transform":[{"filter":"datum.p==='F5i'"}],"mark":{"type":"text","font":"Liberation Serif","fontSize":32,"fontStyle":"italic","align":"left","baseline":"alphabetic"},"encoding":{"text":{"field":"label"},"color":{"value":"#333333"}}}
]}
]},
{"spacing":63,"hconcat":[
{"width":565,"height":351,
"encoding":{
"x":{"field":"t","type":"quantitative","scale":{"domain":[-0.072,1.022],"nice":false,"zero":false},"axis":{"orient":"bottom","offset":-229,"values":[-0.05,0.05,0.1,0.15,0.2,0.25,0.3,0.35,0.4,0.45,0.5,0.55,0.6,0.65,0.7,0.75,0.8,0.85,0.9,0.95,1],"format":".1f","labelExpr":"abs(datum.value*5-round(datum.value*5))<0.001 && datum.value>0 ? datum.label : ''","labelFontSize":{"condition":{"test":"abs(datum.value*5-round(datum.value*5))>0.001 || datum.value<0","value":1},"value":13},"tickSize":-4,"labelPadding":11,"title":"τ","titleFont":"Liberation Serif","titleFontSize":24,"titleFontStyle":"italic","titleFontWeight":"normal","titleColor":"#333","titleX":559,"titleY":32,"titleAlign":"center","titleBaseline":"middle"}},
"y":{"field":"v","type":"quantitative","scale":{"domain":[-2.0017,1.0664],"nice":false,"zero":false},"axis":{"orient":"left","offset":-37.18,"values":[-1.9,-1.8,-1.7,-1.6,-1.5,-1.4,-1.3,-1.2,-1.1,-1,-0.9,-0.8,-0.7,-0.6,-0.5,-0.4,-0.3,-0.2,-0.1,0.1,0.2,0.3,0.4,0.5,0.6,0.7,0.8,0.9,1],"format":".1f","labelExpr":"abs(datum.value*2-round(datum.value*2))<0.001 ? datum.label : ''","labelFontSize":{"condition":{"test":"abs(datum.value*2-round(datum.value*2))>0.001","value":1},"value":13},"tickSize":-4,"labelPadding":8,"title":null}},
"color":{"field":"s","type":"nominal","scale":{"domain":["r","c","o","b"],"range":["#B30000","#19B0B0","#B35900","#0000B3"]},"legend":null}},
"layer":[
{"transform":[{"filter":"datum.p==='Tl'"}],"mark":{"type":"line","strokeWidth":1.2,"interpolate":"monotone"}},
{"transform":[{"filter":"datum.p==='Tb'"}],"mark":{"type":"rule","strokeWidth":3},"encoding":{"x2":{"field":"t2"}}},
{"transform":[{"filter":"datum.p==='T0'"}],"mark":{"type":"circle","size":32,"opacity":1}},
{"transform":[{"filter":"datum.p==='T0x'"}],"mark":{"type":"text","font":"Liberation Serif","fontSize":32,"align":"left","baseline":"alphabetic"},"encoding":{"text":{"field":"label"},"color":{"value":"#333333"}}},
{"transform":[{"filter":"datum.p==='T0i'"}],"mark":{"type":"text","font":"Liberation Serif","fontSize":32,"fontStyle":"italic","align":"left","baseline":"alphabetic"},"encoding":{"text":{"field":"label"},"color":{"value":"#333333"}}}
]},
{"width":565,"height":351,
"encoding":{
"x":{"field":"t","type":"quantitative","scale":{"domain":[-0.072,1.022],"nice":false,"zero":false},"axis":{"orient":"bottom","offset":-232,"values":[-0.05,0.05,0.1,0.15,0.2,0.25,0.3,0.35,0.4,0.45,0.5,0.55,0.6,0.65,0.7,0.75,0.8,0.85,0.9,0.95,1],"format":".1f","labelExpr":"abs(datum.value*5-round(datum.value*5))<0.001 && datum.value>0 ? datum.label : ''","labelFontSize":{"condition":{"test":"abs(datum.value*5-round(datum.value*5))>0.001 || datum.value<0","value":1},"value":13},"tickSize":-4,"labelPadding":11,"title":"τ","titleFont":"Liberation Serif","titleFontSize":24,"titleFontStyle":"italic","titleFontWeight":"normal","titleColor":"#333","titleX":559,"titleY":32,"titleAlign":"center","titleBaseline":"middle"}},
"y":{"field":"v","type":"quantitative","scale":{"domain":[-2.064,1.0587],"nice":false,"zero":false},"axis":{"orient":"left","offset":-37.18,"values":[-2,-1.9,-1.8,-1.7,-1.6,-1.5,-1.4,-1.3,-1.2,-1.1,-1,-0.9,-0.8,-0.7,-0.6,-0.5,-0.4,-0.3,-0.2,-0.1,0.1,0.2,0.3,0.4,0.5,0.6,0.7,0.8,0.9,1],"format":".1f","labelExpr":"abs(datum.value*2-round(datum.value*2))<0.001 ? datum.label : ''","labelFontSize":{"condition":{"test":"abs(datum.value*2-round(datum.value*2))>0.001","value":1},"value":13},"tickSize":-4,"labelPadding":8,"title":null}},
"color":{"field":"s","type":"nominal","scale":{"domain":["r","c","o","b"],"range":["#B30000","#19B0B0","#B35900","#0000B3"]},"legend":null}},
"layer":[
{"transform":[{"filter":"datum.p==='Tl'"}],"mark":{"type":"line","strokeWidth":1.2,"interpolate":"monotone"}},
{"transform":[{"filter":"datum.p==='Tb'"}],"mark":{"type":"rule","strokeWidth":3},"encoding":{"x2":{"field":"t2"}}},
{"transform":[{"filter":"datum.p==='T5'"}],"mark":{"type":"circle","size":32,"opacity":1}},
{"transform":[{"filter":"datum.p==='T5x'"}],"mark":{"type":"text","font":"Liberation Serif","fontSize":32,"align":"left","baseline":"alphabetic"},"encoding":{"text":{"field":"label"},"color":{"value":"#333333"}}},
{"transform":[{"filter":"datum.p==='T5i'"}],"mark":{"type":"text","font":"Liberation Serif","fontSize":32,"fontStyle":"italic","align":"left","baseline":"alphabetic"},"encoding":{"text":{"field":"label"},"color":{"value":"#333333"}}}
]}
]}
]
}
